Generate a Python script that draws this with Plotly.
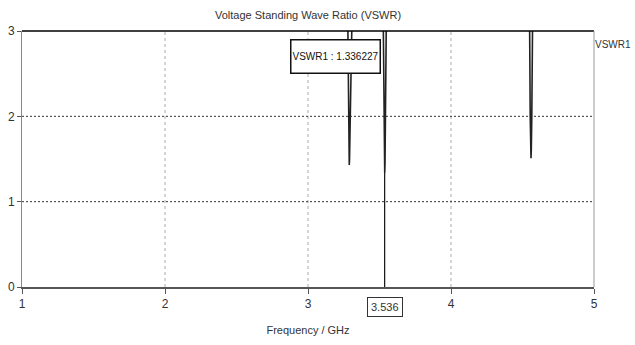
import plotly.graph_objects as go

# Data
freq_ghz = [1.0, 3.20, 3.279, 3.283, 3.2865, 3.2885, 3.2905, 3.294, 3.299, 3.40,
            3.527, 3.531, 3.5345, 3.5365, 3.5385, 3.542, 3.547, 4.40,
            4.550, 4.554, 4.5575, 4.5595, 4.5615, 4.565, 4.570, 5.0]
vswr = [8.0, 9.0, 3.0, 2.0, 1.5, 1.43, 1.5, 2.0, 3.0, 12.0,
        3.0, 2.0, 1.45, 1.336227, 1.45, 2.0, 3.0, 10.0,
        3.0, 2.0, 1.6, 1.51, 1.6, 2.0, 3.0, 7.0]
marker_freq = 3.536
marker_value = 1.336227
x_ticks = [1, 2, 3, 4, 5]
y_ticks = [0, 1, 2, 3]

FONT = "Liberation Sans Narrow, Liberation Sans, Arial, sans-serif"

fig = go.Figure()
fig.add_trace(go.Scatter(x=freq_ghz, y=vswr, mode="lines", name="VSWR1",
                         line=dict(color="#222222", width=1.6),
                         showlegend=False))
fig.add_trace(go.Scatter(x=[marker_freq, marker_freq], y=[0, marker_value], mode="lines",
                         line=dict(color="#111111", width=1.2), showlegend=False,
                         hoverinfo="skip"))

# Grid lines
for xv in x_ticks[1:-1]:
    fig.add_shape(type="line", xref="x", yref="y", x0=xv, x1=xv, y0=0, y1=3,
                  line=dict(color="#aaaaaa", width=1, dash="3px,3px"), layer="below")
for yv in y_ticks[1:-1]:
    fig.add_shape(type="line", xref="x", yref="y", x0=1, x1=5, y0=yv, y1=yv,
                  line=dict(color="#333333", width=1, dash="2px,2px"), layer="below")
# Frame: top black, right gray
fig.add_shape(type="line", xref="paper", yref="paper", x0=0, x1=1, y0=1, y1=1,
              line=dict(color="#000000", width=1.5))
fig.add_shape(type="line", xref="paper", yref="paper", x0=1, x1=1, y0=0, y1=1,
              line=dict(color="#999999", width=1))

fig.add_annotation(x=0.5, y=1, xref="paper", yref="paper", yshift=8, yanchor="bottom",
                   text="Voltage Standing Wave Ratio (VSWR)", showarrow=False,
                   font=dict(family=FONT, size=11, color="#333333"))
fig.add_annotation(x=1, y=0.975, xref="paper", yref="paper", xshift=39, xanchor="right",
                   text="VSWR1", showarrow=False,
                   font=dict(family=FONT, size=10, color="#333333"))
fig.add_annotation(x=3.189, y=2.70, xref="x", yref="y",
                   text="VSWR1 : 1.336227", showarrow=False,
                   font=dict(family=FONT, size=10, color="#111111"),
                   width=86, height=30, align="center",
                   bgcolor="white", bordercolor="#111111", borderwidth=1.5, borderpad=1)
fig.add_annotation(x=marker_freq, y=0, xref="x", yref="paper", yshift=-20, yanchor="middle",
                   text="3.536", showarrow=False,
                   font=dict(family=FONT, size=11, color="#333333"),
                   bgcolor="white", bordercolor="#333333", borderwidth=1, borderpad=3)

fig.update_layout(
    width=635, height=345,
    margin=dict(l=22, r=41, t=31, b=58),
    plot_bgcolor="white", paper_bgcolor="white",
    font=dict(family=FONT, size=12, color="#333333"),
    showlegend=False,
    xaxis=dict(range=[1, 5], tickvals=x_ticks, showgrid=False, zeroline=False,
               automargin=False,
               showline=True, linecolor="#555555", linewidth=1.5,
               ticks="outside", ticklen=5, tickcolor="#555555",
               tickfont=dict(family=FONT, size=12, color="#333333"),
               title=dict(text="Frequency / GHz", standoff=16,
                          font=dict(family=FONT, size=11, color="#333333"))),
    yaxis=dict(range=[0, 3], tickvals=y_ticks, showgrid=False, zeroline=False,
               automargin=False,
               showline=True, linecolor="#888888", linewidth=1,
               ticks="outside", ticklen=4, tickcolor="#555555",
               tickfont=dict(family=FONT, size=12, color="#333333")),
)

fig.write_html("out.html")
